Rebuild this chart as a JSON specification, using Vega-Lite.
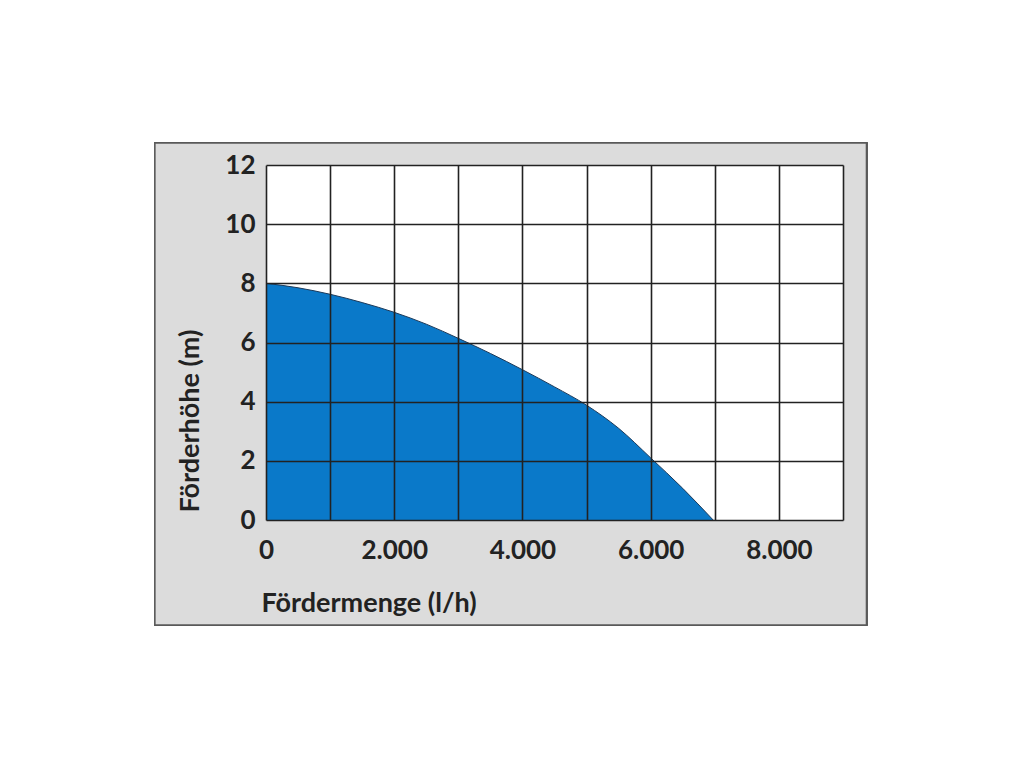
{
  "$schema": "https://vega.github.io/schema/vega-lite/v6.json",
  "autosize": {"type": "none"},
  "width": 577,
  "height": 355,
  "padding": {"left": 266, "top": 165, "right": 181, "bottom": 248},
  "background": "white",
  "config": {"view": {"stroke": null}, "font": "Lato"},
  "data": {"values": [
    {"menge": 0, "hoehe": 8.0},
    {"menge": 500, "hoehe": 7.85},
    {"menge": 1000, "hoehe": 7.63},
    {"menge": 1500, "hoehe": 7.35},
    {"menge": 2000, "hoehe": 7.02},
    {"menge": 2500, "hoehe": 6.62},
    {"menge": 3000, "hoehe": 6.14},
    {"menge": 3500, "hoehe": 5.63},
    {"menge": 4000, "hoehe": 5.08},
    {"menge": 4500, "hoehe": 4.5},
    {"menge": 5000, "hoehe": 3.88},
    {"menge": 5500, "hoehe": 3.1},
    {"menge": 6000, "hoehe": 2.1},
    {"menge": 6500, "hoehe": 1.07},
    {"menge": 6975, "hoehe": 0}
  ]},
  "encoding": {
    "x": {"field": "menge", "type": "quantitative",
      "scale": {"domain": [0, 9000], "nice": false}},
    "y": {"field": "hoehe", "type": "quantitative",
      "scale": {"domain": [0, 12], "nice": false}}
  },
  "layer": [
    {
      "mark": {"type": "rect", "fill": "#dcdcdc", "stroke": "#5a5a5a", "strokeWidth": 1.5},
      "encoding": {
        "x": {"datum": -1733, "type": "quantitative"},
        "x2": {"datum": 9366},
        "y": {"datum": 12.74, "type": "quantitative"},
        "y2": {"datum": -3.55}
      }
    },
    {
      "mark": {"type": "rect", "fill": "white"},
      "encoding": {
        "x": {"datum": 0, "type": "quantitative"},
        "x2": {"datum": 9000},
        "y": {"datum": 12, "type": "quantitative"},
        "y2": {"datum": 0}
      }
    },
    {
      "mark": {"type": "area", "interpolate": "monotone", "color": "#0a79c9", "opacity": 1, "fillOpacity": 1, "line": {"color": "#1c3a5a", "strokeWidth": 1}},
      "encoding": {
        "x": {"field": "menge", "type": "quantitative",
          "scale": {"domain": [0, 9000], "nice": false},
          "axis": {
            "values": [0, 1000, 2000, 3000, 4000, 5000, 6000, 7000, 8000, 9000],
            "labelExpr": "datum.value % 2000 == 0 ? replace(format(datum.value, ','), ',', '.') : ''",
            "grid": true, "gridColor": "#222", "gridWidth": 1.6, "gridOpacity": 1,
            "domain": false, "ticks": false, "zindex": 1,
            "labelFont": "Lato", "labelFontSize": 26, "labelFontWeight": "bold", "labelColor": "#222",
            "labelPadding": 17, "labelFlush": false,
            "title": "Fördermenge (l/h)", "titleFont": "Lato", "titleFontSize": 27, "titleFontWeight": "bold", "titleColor": "#222",
            "titleAnchor": "start", "titleAlign": "left", "titleX": -5, "titleY": 83, "titleBaseline": "middle"
          }},
        "y": {"field": "hoehe", "type": "quantitative",
          "scale": {"domain": [0, 12], "nice": false},
          "axis": {
            "values": [0, 2, 4, 6, 8, 10, 12],
            "grid": true, "gridColor": "#222", "gridWidth": 1.6, "gridOpacity": 1,
            "domain": false, "ticks": false, "zindex": 1,
            "labelFont": "Lato", "labelFontSize": 26, "labelFontWeight": "bold", "labelColor": "#222",
            "labelPadding": 11,
            "title": "Förderhöhe (m)", "titleFont": "Lato", "titleFontSize": 27, "titleFontWeight": "bold", "titleColor": "#222",
            "titleAngle": -90, "titleAlign": "left", "titleBaseline": "middle", "titleX": -76, "titleY": 347
          }}
      }
    }
  ]
}
